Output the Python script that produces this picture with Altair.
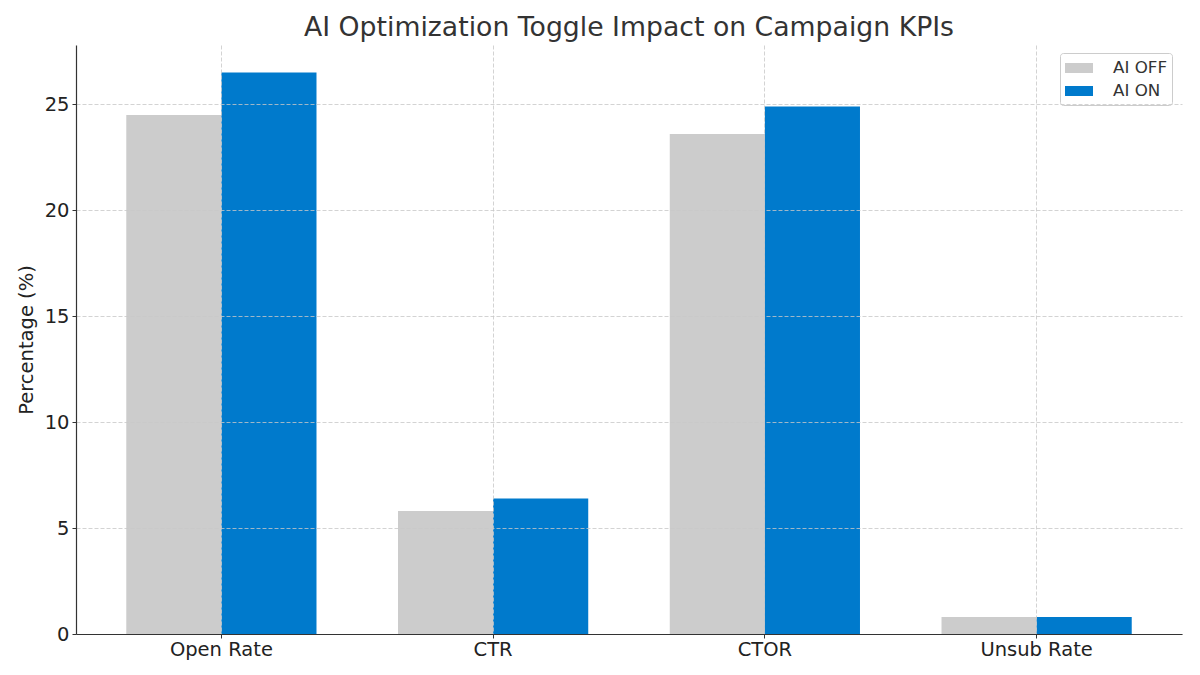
import altair as alt
import pandas as pd

kpis = ["Open Rate", "CTR", "CTOR", "Unsub Rate"]
ai_off = [24.5, 5.8, 23.6, 0.8]
ai_on = [26.5, 6.4, 24.9, 0.8]
groups = ["AI OFF", "AI ON"]
colors = ["#cccccc", "#007acc"]
y_ticks = [0, 5, 10, 15, 20, 25]

rows = []
for k, a, b in zip(kpis, ai_off, ai_on):
    rows.append({"KPI": k, "Group": groups[0], "Value": a})
    rows.append({"KPI": k, "Group": groups[1], "Value": b})
df = pd.DataFrame(rows)

text_color = "#222222"

chart = alt.Chart(df).mark_bar().encode(
    x=alt.X(
        "KPI:N",
        sort=kpis,
        scale=alt.Scale(paddingInner=0.3, paddingOuter=0.185),
        axis=alt.Axis(
            title=None,
            labelAngle=0,
            labelFontSize=19.5,
            labelColor=text_color,
            labelFont="DejaVu Sans",
            labelPadding=2,
            tickSize=4,
            tickColor="#333333",
            domainColor="#333333",
            domainWidth=1.2,
            grid=True,
            gridDash=[4, 2],
            gridColor="#c8c8c8",
            gridWidth=0.8,
            bandPosition=0.5,
            zindex=1,
        ),
    ),
    xOffset=alt.XOffset("Group:N", sort=groups, scale=alt.Scale(paddingInner=0, paddingOuter=0)),
    y=alt.Y(
        "Value:Q",
        scale=alt.Scale(domain=[0, 27.8], nice=False),
        axis=alt.Axis(
            title="Percentage (%)",
            titleFontSize=19.5,
            titleFontWeight="normal",
            titleFont="DejaVu Sans",
            titleColor=text_color,
            titlePadding=8,
            values=y_ticks,
            labelFontSize=19.5,
            labelFont="DejaVu Sans",
            labelColor=text_color,
            labelPadding=3,
            tickSize=4,
            tickColor="#333333",
            domainColor="#333333",
            domainWidth=1.2,
            grid=True,
            gridDash=[4, 2],
            gridColor="#c8c8c8",
            gridWidth=0.8,
            zindex=1,
        ),
    ),
    color=alt.Color(
        "Group:N",
        sort=groups,
        scale=alt.Scale(domain=groups, range=colors),
        legend=alt.Legend(
            title=None,
            orient="none",
            legendX=984,
            legendY=8,
            symbolType="M-1,-0.5H1.8V0.5H-1Z",
            symbolSize=400,
            symbolStrokeWidth=0,
            symbolOpacity=1,
            labelFontSize=16.7,
            labelFont="DejaVu Sans",
            labelColor="#333333",
            labelOffset=28,
            rowPadding=4,
            padding=5,
            strokeColor="#cccccc",
            fillColor="white",
            cornerRadius=3,
        ),
    ),
).properties(
    width=1106,
    height=589,
    title=alt.TitleParams(
        "AI Optimization Toggle Impact on Campaign KPIs",
        fontSize=26.7,
        font="DejaVu Sans",
        fontWeight="normal",
        color="#333333",
        anchor="middle",
        offset=3,
    ),
    autosize=alt.AutoSizeParams(type="none"),
    padding={"left": 68, "top": 37, "right": 10, "bottom": 30},
).configure_view(stroke=None)

chart.save("out.html", embed_options={"renderer": "svg", "actions": False})
